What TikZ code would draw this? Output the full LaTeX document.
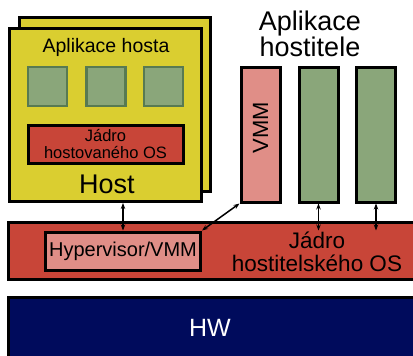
\documentclass[tikz,border=0pt]{standalone}
\usepackage{fontspec}
\setmainfont{Liberation Sans}
\usetikzlibrary{arrows.meta}
\definecolor{hyellow}{RGB}{218,206,48}
\definecolor{hgreen}{RGB}{138,166,122}
\definecolor{hgreenb}{RGB}{88,122,82}
\definecolor{hred}{RGB}{200,69,56}
\definecolor{hpink}{RGB}{224,142,135}
\definecolor{hnavy}{RGB}{0,11,92}
\tikzset{
  blk/.style={draw=black, line width=3pt, rectangle, inner sep=0pt},
  sq/.style={draw=hgreenb, fill=hgreen, line width=2.5pt, rectangle, inner sep=0pt, minimum width=39pt, minimum height=39pt},
  tall/.style={blk, minimum width=39pt, minimum height=135pt},
  lbl/.style={inner sep=0pt, align=center},
  arr/.style={{Stealth[length=6pt,width=4.5pt]}-{Stealth[length=6pt,width=4.5pt]}, line width=1.5pt}
}
\begin{document}
\begin{tikzpicture}[x=1pt,y=-1pt]
\useasboundingbox (0,0) rectangle (413,356);
\clip (0,0) rectangle (413,356);
% host stack
\node[blk, fill=hyellow, minimum width=191pt, minimum height=174pt] (hostback) at (115,104.5) {};
\node[blk, fill=hyellow, minimum width=192pt, minimum height=173pt] (hostfront) at (105.5,115) {};
\node[lbl, font=\fontsize{19.5}{20}\selectfont] (apph) at (106,47) {Aplikace hosta};
\node[sq] (s1) at (47.5,86.5) {};
\node[sq] (s2) at (106,86.5) {};
\node[sq] (s3) at (163.5,86.5) {};
\node[blk, fill=hred, minimum width=155pt, minimum height=38pt, font=\fontsize{16.5}{17}\selectfont, align=center] (gk) at (105.5,144) {Jádro\\hostovaného OS};
\node[lbl, font=\fontsize{27}{28}\selectfont] (hostlbl) at (107,184) {Host};
% host applications
\node[lbl, font=\fontsize{27}{26}\selectfont] (apphost) at (310,34) {Aplikace\\hostitele};
\node[tall, fill=hpink] (vmm) at (260.5,134.5) {};
\node[lbl, rotate=90, font=\fontsize{22}{22}\selectfont] (vmmlbl) at (260.5,128) {VMM};
\node[tall, fill=hgreen] (g1) at (318.5,134.5) {};
\node[tall, fill=hgreen] (g2) at (376,134.5) {};
% kernel bar
\node[blk, fill=hred, minimum width=420pt, minimum height=57pt] (kern) at (218.5,250.5) {};
\node[blk, fill=hpink, minimum width=155pt, minimum height=38pt, font=\fontsize{20}{20}\selectfont] (hyp) at (123,251) {Hypervisor/VMM};
\node[lbl, font=\fontsize{22.5}{23}\selectfont] (kernlbl) at (317,252) {Jádro\\hostitelského OS};
% HW
\node[blk, fill=hnavy, minimum width=420pt, minimum height=60pt, text=white, font=\fontsize{25}{25}\selectfont] (hw) at (218.5,327.5) {};
\node[lbl, text=white, font=\fontsize{25}{25}\selectfont] (hwlbl) at (210,328) {HW};
% arrows
\draw[arr] (hyp.north |- hostfront.south) -- (hyp.north);
\draw[arr] (hyp.north east) -- (vmm.south west);
\draw[arr] (g1.south) -- (g1.south |- hyp.north);
\draw[arr] (g2.south) -- (g2.south |- hyp.north);
\end{tikzpicture}
\end{document}
